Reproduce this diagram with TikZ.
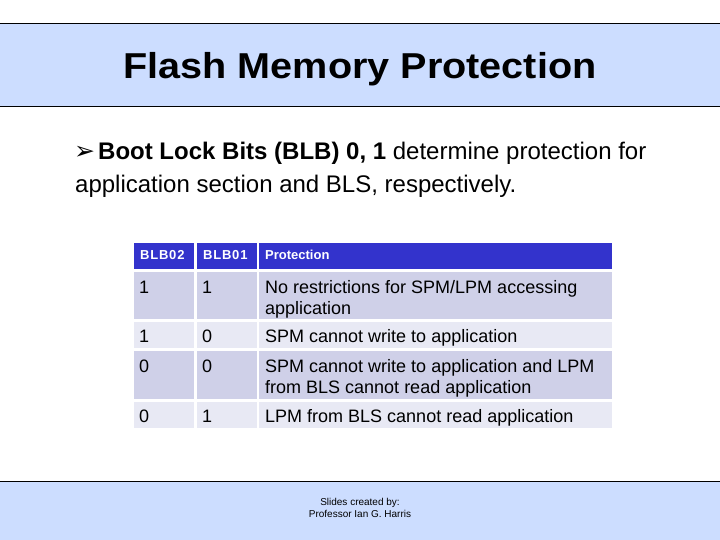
\documentclass[tikz,border=0pt]{standalone}
\usepackage{fontspec}
\setmainfont{Liberation Sans}
\newfontfamily\symfont{DejaVu Sans}
\definecolor{band}{HTML}{CCDDFF}
\definecolor{hdr}{HTML}{3333CC}
\definecolor{rowA}{HTML}{CFD0E8}
\definecolor{rowB}{HTML}{E8E9F4}
\begin{document}
\begin{tikzpicture}[x=1pt,y=-1pt,
  cellA/.style={fill=rowA,draw=none},
  cellB/.style={fill=rowB,draw=none},
  cellH/.style={fill=hdr,draw=none},
  celltext/.style={anchor=base west,inner sep=0pt,font=\fontsize{18}{21}\selectfont},
  hdrtext/.style={anchor=base west,inner sep=0pt,font=\fontsize{13}{15}\selectfont\bfseries,text=white},
  bodytext/.style={anchor=base west,inner sep=0pt,font=\fontsize{24}{28}\selectfont}]
\useasboundingbox (0,0) rectangle (720,540);
\fill[white] (0,0) rectangle (720,540);
% title band
\fill[band] (0,24) rectangle (720,107);
\draw[black,line width=1pt] (0,24) -- (720,24);
\draw[black,line width=1pt] (0,107) -- (720,107);
\node[anchor=base,inner sep=0pt,font=\fontsize{36}{40}\selectfont\bfseries] (title) at (360,79)
  {\scalebox{1.1}[1]{Flash Memory Protection}};
% bullet
\node[anchor=base west,inner sep=0pt,font=\symfont\fontsize{25}{28}\selectfont] (arrow) at (74,160) {➢};
\node[bodytext] (l1) at (98,160)
  {\textbf{Boot Lock Bits (BLB) 0, 1} determine protection for};
\node[bodytext] (l2) at (75,193)
  {application section and BLS, respectively.};
% table
\fill[cellH] (134,243) rectangle (194,269);
\fill[cellH] (197,243) rectangle (257,269);
\fill[cellH] (259,243) rectangle (612,269);
\fill[cellA] (134,272) rectangle (194,319);
\fill[cellA] (197,272) rectangle (257,319);
\fill[cellA] (259,272) rectangle (612,319);
\fill[cellB] (134,322) rectangle (194,348);
\fill[cellB] (197,322) rectangle (257,348);
\fill[cellB] (259,322) rectangle (612,348);
\fill[cellA] (134,351) rectangle (194,399);
\fill[cellA] (197,351) rectangle (257,399);
\fill[cellA] (259,351) rectangle (612,399);
\fill[cellB] (134,402) rectangle (194,428);
\fill[cellB] (197,402) rectangle (257,428);
\fill[cellB] (259,402) rectangle (612,428);
\node[hdrtext] (h1) at (140,259) {\addfontfeature{LetterSpace=6}BLB02};
\node[hdrtext] (h2) at (203,259) {\addfontfeature{LetterSpace=6}BLB01};
\node[hdrtext] (h3) at (265,259) {Protection};
\node[celltext] (a1) at (139,293) {1};
\node[celltext] (a2) at (202,293) {1};
\node[celltext] (a3) at (265,293) {No restrictions for SPM/LPM accessing};
\node[celltext] (a4) at (265,314) {application};
\node[celltext] (b1) at (139,342) {1};
\node[celltext] (b2) at (202,342) {0};
\node[celltext] (b3) at (265,342) {SPM cannot write to application};
\node[celltext] (c1) at (139,372) {0};
\node[celltext] (c2) at (202,372) {0};
\node[celltext] (c3) at (265,372) {SPM cannot write to application and LPM};
\node[celltext] (c4) at (265,393) {from BLS cannot read application};
\node[celltext] (d1) at (139,422) {0};
\node[celltext] (d2) at (202,422) {1};
\node[celltext] (d3) at (265,422) {LPM from BLS cannot read application};
% bottom band
\fill[band] (0,481) rectangle (720,540);
\draw[black,line width=1pt] (0,481) -- (720,481);
\node[anchor=base,inner sep=0pt,font=\fontsize{10}{12}\selectfont] (credit1) at (360,505) {Slides created by:};
\node[anchor=base,inner sep=0pt,font=\fontsize{10}{12}\selectfont] (credit2) at (360,517) {Professor Ian G. Harris};
\end{tikzpicture}
\end{document}
